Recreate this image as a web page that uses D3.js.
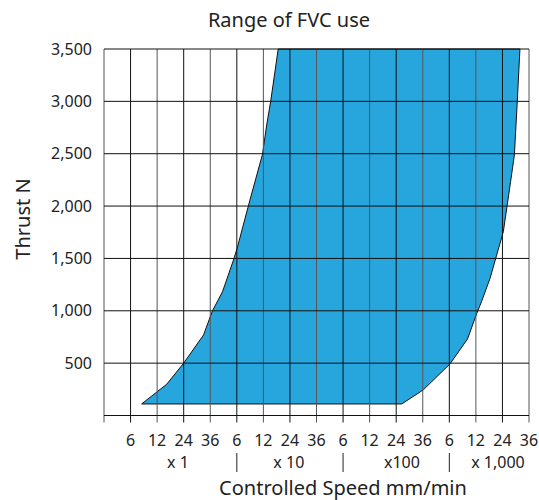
<!DOCTYPE html>
<html>
<head>
<meta charset="utf-8">
<script src="https://cdn.jsdelivr.net/npm/d3@7"></script>
<style>
  body { margin: 0; background: #fff; }
  text { font-family: "Noto Sans", "Open Sans", sans-serif; fill: #222; }
</style>
</head>
<body>
<svg id="chart" width="539" height="500"></svg>
<script>
// x axis: speed ticks (mm/min), each decade shows 6, 12, 24, 36
const speedTicks = [3.6, 6, 12, 24, 36, 60, 120, 240, 360, 600, 1200, 2400, 3600, 6000, 12000, 24000, 36000];
const speedTickLabels = ["", "6", "12", "24", "36", "6", "12", "24", "36", "6", "12", "24", "36", "6", "12", "24", "36"];
const groupLabels = ["x 1", "x 10", "x100", "x 1,000"];
const groupCenters = [21.4, 235, 2660, 22000];
const groupSeparators = [60, 600, 6000];

// y axis: thrust (N)
const thrustTicks = [500, 1000, 1500, 2000, 2500, 3000, 3500];

// boundary of the usable range
const leftEdge = [[8.5, 110], [16.3, 298], [24, 500], [33, 770], [38, 1000], [47, 1180], [57, 1485],
                  [61, 1600], [85, 1985], [118, 2495], [135, 2775], [153, 3000], [187, 3500]];
const rightEdge = [[31900, 3500], [30700, 3000], [29400, 2490], [27700, 2235], [24400, 1755], [18400, 1310],
                   [14600, 1090], [12400, 975], [10100, 730], [6200, 495], [3650, 245], [2650, 110]];

const svg = d3.select('#chart');
const margin = {top: 49, left: 104, right: 10};
const width = 539 - margin.left - margin.right;   // 425
const yBottom = 415.5;

// piecewise linear scale: ticks equally spaced
const step = width / (speedTicks.length - 1);
const x = d3.scaleLinear()
    .domain(speedTicks)
    .range(speedTicks.map((d, i) => margin.left + i * step));
const y = d3.scaleLinear().domain([0, 3500]).range([yBottom, margin.top]);

// filled area
const area = leftEdge.concat(rightEdge);
svg.append('path')
    .datum(area)
    .attr('d', d3.line().x(d => x(d[0])).y(d => y(d[1])).curve(d3.curveLinearClosed))
    .attr('fill', '#27a6de')
    .attr('stroke', '#111')
    .attr('stroke-width', 1);

// grid
const grid = svg.append('g').attr('stroke', '#111').attr('stroke-width', 1);
grid.selectAll('line.v')
    .data(speedTicks).enter().append('line')
    .attr('class', 'v')
    .attr('x1', d => x(d)).attr('x2', d => x(d))
    .attr('y1', margin.top).attr('y2', yBottom + 7)
    .attr('stroke', (d, i) => i % 2 ? '#111' : '#555');
grid.selectAll('line.h')
    .data([0].concat(thrustTicks)).enter().append('line')
    .attr('class', 'h')
    .attr('x1', margin.left).attr('x2', margin.left + width)
    .attr('y1', d => y(d)).attr('y2', d => y(d));

// y tick labels
svg.append('g').selectAll('text')
    .data(thrustTicks).enter().append('text')
    .attr('x', 92).attr('y', d => y(d))
    .attr('dy', '0.35em')
    .attr('text-anchor', 'end')
    .attr('font-size', 16)
    .text(d => d3.format(',')(d));

// x tick labels
svg.append('g').selectAll('text')
    .data(speedTicks).enter().append('text')
    .attr('x', d => x(d)).attr('y', 446)
    .attr('text-anchor', 'middle')
    .attr('font-size', 16)
    .text((d, i) => speedTickLabels[i]);

// decade groups
svg.append('g').selectAll('text')
    .data(groupLabels).enter().append('text')
    .attr('x', (d, i) => x(groupCenters[i])).attr('y', 468)
    .attr('text-anchor', 'middle')
    .attr('font-size', 16)
    .text(d => d);
svg.append('g').selectAll('line')
    .data(groupSeparators).enter().append('line')
    .attr('x1', d => x(d)).attr('x2', d => x(d))
    .attr('y1', 453).attr('y2', 472)
    .attr('stroke', '#222').attr('stroke-width', 1);

// titles
svg.append('text')
    .attr('x', 289).attr('y', 27)
    .attr('text-anchor', 'middle')
    .attr('font-size', 20)
    .text('Range of FVC use');
svg.append('text')
    .attr('x', 343).attr('y', 495)
    .attr('text-anchor', 'middle')
    .attr('font-size', 20)
    .text('Controlled Speed mm/min');
svg.append('text')
    .attr('transform', 'translate(30, 219) rotate(-90)')
    .attr('text-anchor', 'middle')
    .attr('font-size', 20)
    .text('Thrust N');
</script>
</body>
</html>
